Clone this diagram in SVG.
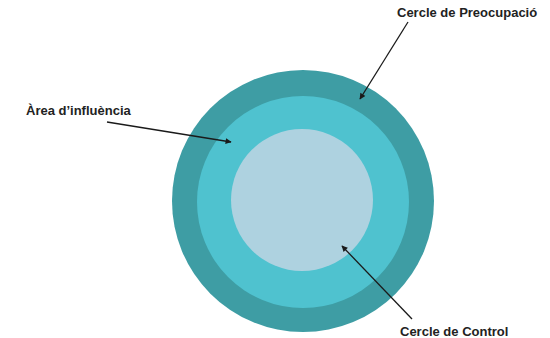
<svg xmlns="http://www.w3.org/2000/svg" width="550" height="338" viewBox="0 0 550 338">
<defs>
<style>
.lbl{font-family:"Liberation Sans",Arial,sans-serif;font-weight:bold;font-size:13px;fill:#222}
.arr{stroke:#1a1a1a;stroke-width:1.3;fill:none;marker-end:url(#ah)}
</style>
<marker id="ah" viewBox="0 0 10 10" refX="9" refY="5" markerWidth="7" markerHeight="6" markerUnits="userSpaceOnUse" orient="auto">
<path d="M0,0 L10,5 L0,10 z" fill="#1a1a1a"/>
</marker>
</defs>
<rect width="550" height="338" fill="#fff"/>
<g id="preocupacio"><circle cx="303" cy="201" r="131" fill="#3E9DA4"/></g>
<g id="influencia"><circle cx="303" cy="202" r="106" fill="#4FC2CF"/></g>
<g id="control"><circle cx="302" cy="200" r="71" fill="#AED2E0"/></g>
<g id="connectors">
<line class="arr" x1="408" y1="22" x2="360" y2="99"/>
<line class="arr" x1="107" y1="122" x2="231" y2="142"/>
<line class="arr" x1="412" y1="319" x2="342" y2="246"/>
</g>
<g id="labels">
<text class="lbl" x="397" y="17">Cercle de Preocupació</text>
<text class="lbl" x="26" y="115">Àrea d’influència</text>
<text class="lbl" x="400" y="336">Cercle de Control</text>
</g>
</svg>
